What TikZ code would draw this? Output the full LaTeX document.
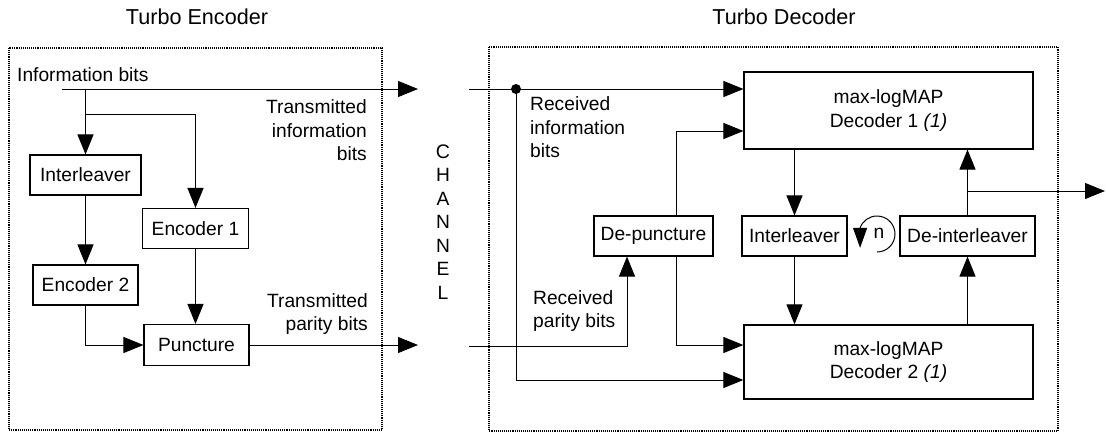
\documentclass[tikz,border=0pt]{standalone}
\usepackage{fontspec}
\setmainfont{Liberation Sans}
\usepackage{tikz}
\usetikzlibrary{arrows.meta,calc}
\tikzstyle{blk}=[rectangle,draw=black,line width=1.1pt,inner sep=0pt,
  align=center,minimum height=40pt]
\tikzstyle{lbl}=[inner sep=0pt,font=\fontsize{19.2}{23.5}\selectfont]
\tikzstyle{ttl}=[inner sep=0pt,font=\fontsize{21.6}{26}\selectfont]
\tikzstyle{arr}=[line width=1pt,-{Triangle[length=20pt,width=16pt]}]
\tikzstyle{ln}=[line width=1pt]
\tikzstyle{frame}=[line width=1.1pt,densely dotted]
\tikzstyle{dot}=[circle,fill=black,inner sep=0pt,minimum size=10pt]

\begin{document}
\begin{tikzpicture}[x=1pt, y=-1pt, every node/.style={font=\fontsize{19.2}{23.5}\selectfont}]
	\useasboundingbox (0,0) rectangle (1106,432);
	\draw[style=frame] (9,48) rectangle (382,430);
	\draw[style=frame] (489,47) rectangle (1058,431);
	\node[style=ttl] (enctitle) at (197,17) {Turbo Encoder};
	\node[style=ttl] (dectitle) at (784,17) {Turbo Decoder};
	\node[style=lbl, anchor=west] (infobits) at (17,75) {Information bits};
	\node[style=lbl, align=right, anchor=east] (txinfo) at (367,130.5) {Transmitted\\information\\bits};
	\node[style=lbl, align=right, anchor=east] (txpar) at (368,314) {Transmitted\\parity bits};
	\node[style=lbl, align=center] (chan) at (443,222) {\fontsize{19.6}{21.4}\selectfont C\\H\\A\\N\\N\\E\\L};
	\node[style=lbl, align=left, anchor=west] (rxinfo) at (530,127.5) {Received\\information\\bits};
	\node[style=lbl, align=left, anchor=west] (rxparl) at (533,311) {Received\\parity bits};
	\node[style=blk, minimum width=111pt] (ilv) at (85.5,175) {Interleaver};
	\node[style=blk, minimum width=106pt] (enc1) at (195.5,228.5) {Encoder 1};
	\node[style=blk, minimum width=105pt] (enc2) at (85.5,285) {Encoder 2};
	\node[style=blk, minimum width=105pt, minimum height=41pt] (punc) at (196.5,345) {Puncture};
	\node[style=blk, minimum width=119pt] (dpunc) at (653.5,236) {De-puncture};
	\node[style=blk, minimum width=105pt] (ilv2) at (794.5,236) {Interleaver};
	\node[style=blk, minimum width=135pt] (dilv) at (967.5,236) {De-interleaver};
	\node[style=blk, minimum width=289pt, minimum height=77pt] (dec1) at (888.5,110.5) {max-logMAP\\Decoder 1 \textit{(1)}};
	\node[style=blk, minimum width=289pt, minimum height=74pt, line width=1.3pt] (dec2) at (888.5,362) {max-logMAP\\Decoder 2 \textit{(1)}};
	\node[style=dot] (tap) at (516,89) {};
	\node (n) at (879,233) {n};
	\coordinate (infoin) at (62,89);
	\coordinate (infoout) at (418,89);
	\coordinate (split) at (85.5,114);
	\coordinate (parout) at (418,345);
	\coordinate (rxin) at (469,89);
	\coordinate (rxpar) at (469,346);
	\coordinate (decout) at (1105,191);
	\coordinate (loop) at (877,252);
	\draw[style=arr] (infoin) to (infoout);
	\draw[style=arr] (ilv |- infoin) to (ilv.north);
	\draw[style=arr] (split) -| (enc1.north);
	\draw[style=arr] (ilv.south) to (enc2.north);
	\draw[style=arr] (enc1.south) to (enc1.south |- punc.north);
	\draw[style=arr] (enc2.south) |- (punc.west);
	\draw[style=arr] (punc.east) to (parout);
	\draw[style=arr] (rxin) to (rxin -| dec1.west);
	\draw[style=arr] (tap.center) |- ([yshift=-18pt]dec2.west);
	\draw[style=arr] (rxpar) -| ([xshift=-26.5pt]dpunc.south);
	\draw[style=arr] ([xshift=22.5pt]dpunc.north) |- ([yshift=-20.5pt]dec1.west);
	\draw[style=arr] ([xshift=22.5pt]dpunc.south) |- ([yshift=17pt]dec2.west);
	\draw[style=arr] (ilv2 |- dec1.south) to (ilv2.north);
	\draw[style=arr] (ilv2.south) to (ilv2 |- dec2.north);
	\draw[style=arr] (dilv |- dec2.north) to (dilv.south);
	\draw[style=arr] (dilv.north) to (dilv |- dec1.south);
	\draw[style=arr] (dilv |- decout) to (decout);
	\draw[line width=1pt, -{Triangle[length=20pt,width=14pt]}] (loop) arc[start angle=-90, end angle=160, radius=18pt] -- ++(0,20);
\end{tikzpicture}
\end{document}
